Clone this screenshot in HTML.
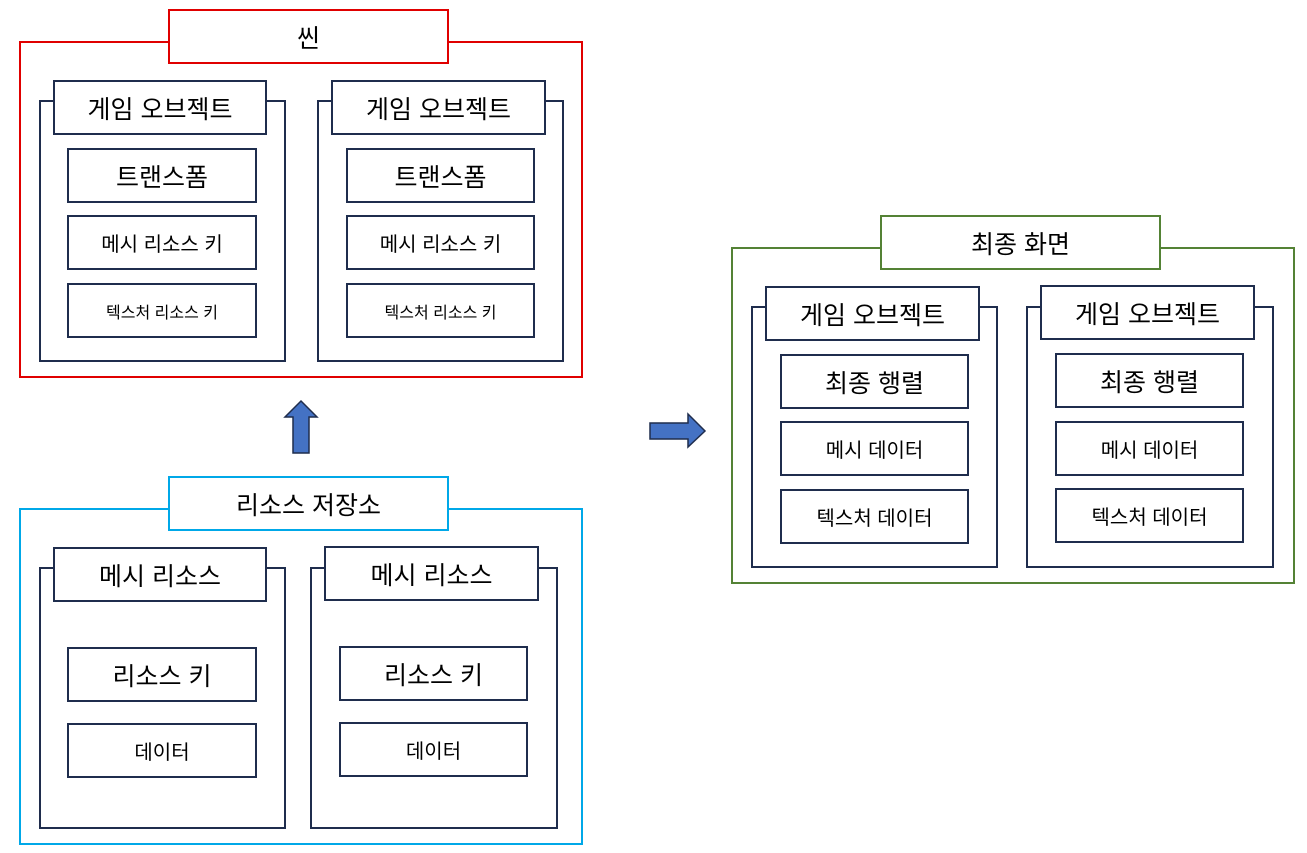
<!DOCTYPE html>
<html><head><meta charset="utf-8"><style>
body{margin:0;width:1307px;height:853px;background:#fff;position:relative;overflow:hidden;font-family:"Liberation Sans","Noto Sans CJK KR","NanumGothic",sans-serif;}
.b{position:absolute;box-sizing:border-box;border:2px solid #1f2d4d;background:#fff;display:flex;align-items:center;justify-content:center;color:#000;white-space:nowrap;}
.o{position:absolute;box-sizing:border-box;border:2px solid #1f2d4d;}
.t24{font-size:25px}.t20{font-size:20px}.t16{font-size:16px}
</style></head><body>
<!-- Scene -->
<div class="o" style="left:19px;top:41px;width:564px;height:337px;border-color:#e00000"></div>
<div class="b t24" style="left:168px;top:9px;width:281px;height:55px;border-color:#e00000">씬</div>
<div class="o" style="left:39px;top:100px;width:247px;height:262px"></div>
<div class="b t24" style="left:53px;top:80px;width:214px;height:55px">게임 오브젝트</div>
<div class="b t24" style="left:67px;top:148px;width:190px;height:55px">트랜스폼</div>
<div class="b t20" style="left:67px;top:215px;width:190px;height:55px">메시 리소스 키</div>
<div class="b t16" style="left:67px;top:283px;width:190px;height:55px">텍스처 리소스 키</div>
<div class="o" style="left:317px;top:100px;width:247px;height:262px"></div>
<div class="b t24" style="left:331px;top:80px;width:215px;height:55px">게임 오브젝트</div>
<div class="b t24" style="left:346px;top:148px;width:189px;height:55px">트랜스폼</div>
<div class="b t20" style="left:346px;top:215px;width:189px;height:55px">메시 리소스 키</div>
<div class="b t16" style="left:346px;top:283px;width:189px;height:55px">텍스처 리소스 키</div>
<!-- arrows -->
<svg style="position:absolute;left:0;top:0" width="1307" height="853">
<polygon points="301,401 317,417 309,417 309,453 293,453 293,417 285,417" fill="#4472c4" stroke="#1f2d4d" stroke-width="1.5"/>
<polygon points="650,423 688,423 688,414 705,431 688,447 688,439 650,439" fill="#4472c4" stroke="#1f2d4d" stroke-width="1.5"/>
</svg>
<!-- Resource -->
<div class="o" style="left:19px;top:508px;width:564px;height:337px;border-color:#00a8e8"></div>
<div class="b t24" style="left:168px;top:476px;width:281px;height:55px;border-color:#00a8e8">리소스 저장소</div>
<div class="o" style="left:39px;top:567px;width:247px;height:262px"></div>
<div class="b t24" style="left:53px;top:547px;width:214px;height:55px">메시 리소스</div>
<div class="b t24" style="left:67px;top:647px;width:190px;height:55px">리소스 키</div>
<div class="b t20" style="left:67px;top:723px;width:190px;height:55px">데이터</div>
<div class="o" style="left:310px;top:567px;width:248px;height:262px"></div>
<div class="b t24" style="left:324px;top:546px;width:215px;height:55px">메시 리소스</div>
<div class="b t24" style="left:339px;top:646px;width:189px;height:55px">리소스 키</div>
<div class="b t20" style="left:339px;top:722px;width:189px;height:55px">데이터</div>
<!-- Final -->
<div class="o" style="left:731px;top:247px;width:564px;height:337px;border-color:#548235"></div>
<div class="b t24" style="left:880px;top:215px;width:281px;height:55px;border-color:#548235">최종 화면</div>
<div class="o" style="left:751px;top:306px;width:247px;height:262px"></div>
<div class="b t24" style="left:765px;top:286px;width:215px;height:55px">게임 오브젝트</div>
<div class="b t24" style="left:780px;top:354px;width:189px;height:55px">최종 행렬</div>
<div class="b t20" style="left:780px;top:421px;width:189px;height:55px">메시 데이터</div>
<div class="b t20" style="left:780px;top:489px;width:189px;height:55px">텍스처 데이터</div>
<div class="o" style="left:1026px;top:306px;width:248px;height:262px"></div>
<div class="b t24" style="left:1040px;top:285px;width:215px;height:55px">게임 오브젝트</div>
<div class="b t24" style="left:1055px;top:353px;width:189px;height:55px">최종 행렬</div>
<div class="b t20" style="left:1055px;top:421px;width:189px;height:55px">메시 데이터</div>
<div class="b t20" style="left:1055px;top:488px;width:189px;height:55px">텍스처 데이터</div>
</body></html>
